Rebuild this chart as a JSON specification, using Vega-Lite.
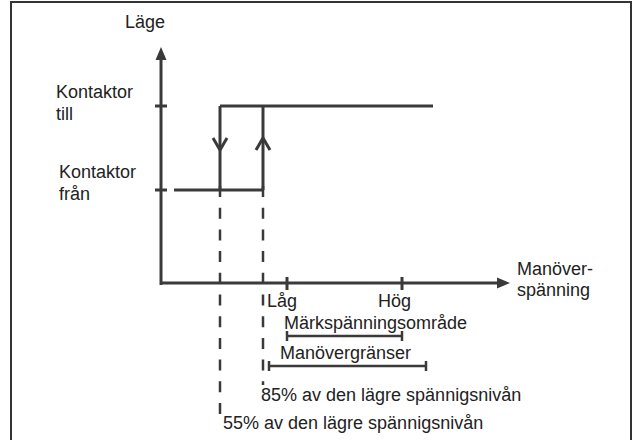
{
  "$schema": "https://vega.github.io/schema/vega-lite/v6.json",
  "width": 632,
  "height": 440,
  "padding": 0,
  "autosize": {"type": "none"},
  "background": "white",
  "config": {"view": {"stroke": null}},
  "datasets": {
    "frame": [{"x": 11, "y": 2, "x2": 631, "y2": 460}],
    "thick": [
      {"x": 161, "y": 285, "x2": 161, "y2": 56},
      {"x": 160, "y": 283, "x2": 499, "y2": 283},
      {"x": 155, "y": 106, "x2": 167, "y2": 106},
      {"x": 155, "y": 190, "x2": 167, "y2": 190},
      {"x": 287, "y": 277, "x2": 287, "y2": 290},
      {"x": 402, "y": 277, "x2": 402, "y2": 290},
      {"x": 220, "y": 106, "x2": 433, "y2": 106},
      {"x": 174, "y": 190, "x2": 263, "y2": 190},
      {"x": 220, "y": 106, "x2": 220, "y2": 190},
      {"x": 263, "y": 106, "x2": 263, "y2": 190},
      {"x": 213, "y": 138, "x2": 220, "y2": 150},
      {"x": 227, "y": 138, "x2": 220, "y2": 150},
      {"x": 256, "y": 150, "x2": 263, "y2": 138},
      {"x": 270, "y": 150, "x2": 263, "y2": 138}
    ],
    "thin": [
      {"x": 287, "y": 336, "x2": 402, "y2": 336},
      {"x": 287, "y": 331, "x2": 287, "y2": 341},
      {"x": 402, "y": 331, "x2": 402, "y2": 341},
      {"x": 269, "y": 366, "x2": 426, "y2": 366},
      {"x": 269, "y": 361, "x2": 269, "y2": 371},
      {"x": 426, "y": 361, "x2": 426, "y2": 371}
    ],
    "dashed": [
      {"x": 220, "y": 186, "x2": 220, "y2": 414},
      {"x": 263, "y": 186, "x2": 263, "y2": 385}
    ],
    "headV": [
      {"y": 47, "x": 161, "x2": 161},
      {"y": 60, "x": 155.5, "x2": 166.5}
    ],
    "headH": [
      {"x": 497, "y": 277.5, "y2": 288.5},
      {"x": 510, "y": 283, "y2": 283}
    ],
    "texts": [
      {"x": 125, "y": 23, "t": "Läge"},
      {"x": 56, "y": 93, "t": "Kontaktor"},
      {"x": 56, "y": 115, "t": "till"},
      {"x": 59, "y": 173, "t": "Kontaktor"},
      {"x": 59, "y": 195, "t": "från"},
      {"x": 517, "y": 270, "t": "Manöver-"},
      {"x": 517, "y": 291, "t": "spänning"},
      {"x": 267, "y": 302, "t": "Låg"},
      {"x": 378, "y": 302, "t": "Hög"},
      {"x": 284, "y": 324, "t": "Märkspänningsområde"},
      {"x": 280, "y": 354, "t": "Manövergränser"},
      {"x": 261, "y": 396, "t": "85% av den lägre spännigsnivån"},
      {"x": 223, "y": 424, "t": "55% av den lägre spännigsnivån"}
    ]
  },
  "layer": [
    {
      "data": {"name": "frame"},
      "mark": {"type": "rect", "fill": null, "stroke": "#333333", "strokeWidth": 2},
      "encoding": {
        "x": {"field": "x", "type": "quantitative", "scale": {"domain": [0, 632], "nice": false, "zero": false}, "axis": null},
        "x2": {"field": "x2"},
        "y": {"field": "y", "type": "quantitative", "scale": {"domain": [0, 440], "nice": false, "zero": false, "reverse": true}, "axis": null},
        "y2": {"field": "y2"}
      }
    },
    {
      "data": {"name": "thick"},
      "mark": {"type": "rule", "stroke": "#3a3a3a", "strokeWidth": 3},
      "encoding": {
        "x": {"field": "x", "type": "quantitative"},
        "x2": {"field": "x2"},
        "y": {"field": "y", "type": "quantitative"},
        "y2": {"field": "y2"}
      }
    },
    {
      "data": {"name": "thin"},
      "mark": {"type": "rule", "stroke": "#3a3a3a", "strokeWidth": 2.5},
      "encoding": {
        "x": {"field": "x", "type": "quantitative"},
        "x2": {"field": "x2"},
        "y": {"field": "y", "type": "quantitative"},
        "y2": {"field": "y2"}
      }
    },
    {
      "data": {"name": "dashed"},
      "mark": {"type": "rule", "stroke": "#3a3a3a", "strokeWidth": 2.5, "strokeDash": [11, 10.7]},
      "encoding": {
        "x": {"field": "x", "type": "quantitative"},
        "x2": {"field": "x2"},
        "y": {"field": "y", "type": "quantitative"},
        "y2": {"field": "y2"}
      }
    },
    {
      "data": {"name": "headV"},
      "mark": {"type": "area", "orient": "horizontal", "fill": "#3a3a3a"},
      "encoding": {
        "y": {"field": "y", "type": "quantitative"},
        "x": {"field": "x", "type": "quantitative"},
        "x2": {"field": "x2"}
      }
    },
    {
      "data": {"name": "headH"},
      "mark": {"type": "area", "orient": "vertical", "fill": "#3a3a3a"},
      "encoding": {
        "x": {"field": "x", "type": "quantitative"},
        "y": {"field": "y", "type": "quantitative"},
        "y2": {"field": "y2"}
      }
    },
    {
      "data": {"name": "texts"},
      "mark": {"type": "text", "align": "left", "baseline": "middle", "font": "Liberation Sans", "fontSize": 18, "fill": "#222222"},
      "encoding": {
        "x": {"field": "x", "type": "quantitative"},
        "y": {"field": "y", "type": "quantitative"},
        "text": {"field": "t"}
      }
    }
  ]
}
